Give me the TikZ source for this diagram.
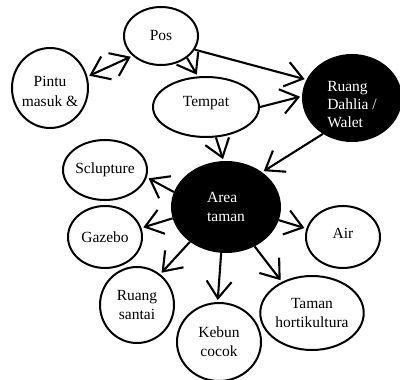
\documentclass[tikz,border=0pt]{standalone}
\usepackage{fontspec}
\setmainfont{Liberation Serif}
\usetikzlibrary{positioning}
\usetikzlibrary{shapes.geometric}
\usetikzlibrary{arrows.meta}

\tikzset{
	bubble/.style={ellipse, draw, line width=2pt, inner sep=0pt, align=center,
		font=\fontsize{15.5}{19}\selectfont},
	dark/.style={bubble, fill=black, text=white, align=left},
	link/.style={line width=2.1pt, -{Straight Barb[length=17pt,width=25pt]}, shorten >=2pt},
	twoway/.style={link, {Straight Barb[length=17pt,width=25pt]}-{Straight Barb[length=17pt,width=25pt]}},
}

\begin{document}
\begin{tikzpicture}[x=1pt,y=-1pt,on grid]
			\useasboundingbox (0,0) rectangle (400,380);
			\node (area)	[dark, minimum width=108pt, minimum height=90pt] at (226,207)	{Area\\taman};
			\node (tempat)	[bubble, minimum width=106pt, minimum height=60pt, above left=100pt and 20pt of area,
				label={[yshift=4pt, font=\fontsize{15.5}{19}\selectfont]center:Tempat}]	{};
			\node (dahlia)	[dark, minimum width=98pt, minimum height=86pt, above right=109pt and 126pt of area,
				label={[yshift=-7pt, text=white, align=left, font=\fontsize{15.5}{18}\selectfont]center:Ruang\\Dahlia /\\Walet}]	{};
			\node (pos)		[bubble, minimum width=74pt, minimum height=58pt, above left=171pt and 65pt of area]	{Pos};
			\node (pintu)	[bubble, minimum width=76pt, minimum height=80pt, above left=119pt and 176pt of area,
				label={[yshift=-3pt, align=center, font=\fontsize{15.5}{20}\selectfont]center:Pintu\\masuk \&}]	{};
			\node (sclup)	[bubble, minimum width=74pt, minimum height=60pt, above left=37pt and 121pt of area]	{Sclupture};
			\node (gazebo)	[bubble, minimum width=74pt, minimum height=62pt, below left=30pt and 121pt of area]	{Gazebo};
			\node (santai)	[bubble, minimum width=74pt, minimum height=76pt, below left=98pt and 89pt of area]	{Ruang\\santai};
			\node (kebun)	[bubble, minimum width=84pt, minimum height=78pt, below left=135pt and 7pt of area]	{Kebun\\cocok};
			\node (hort)	[bubble, minimum width=90pt, minimum height=74pt, below right=106pt and 86pt of area]	{Taman\\hortikultura};
			\node (air)		[bubble, minimum width=74pt, minimum height=62pt, below right=30pt and 117pt of area,
				label={[yshift=4pt, font=\fontsize{15.5}{19}\selectfont]center:Air}]	{};
			% arrows between the rooms
			\draw [twoway, shorten <=2pt] (pintu.17) -- (pos.215);
			\draw [link] (pos.-40) -- (tempat.105);
			\draw [link] (pos.-22) -- (dahlia.158);
			\draw [link] (tempat.east) -- (dahlia.178);
			\draw [link] (tempat.-72) -- (area.93);
			\draw [link] (dahlia.-129) -- (area.44);
			\draw [link] (area.164) -- (sclup.-10);
			\draw [link] (area.-168) -- (gazebo.14);
			\draw [link] (area.-136) -- (santai.53);
			\draw [link] (area.-96) -- (kebun.92);
			\draw [link] (area.-54) -- (hort.134);
			\draw [link] (area.-14) -- (air.167);
		\end{tikzpicture}
\end{document}
